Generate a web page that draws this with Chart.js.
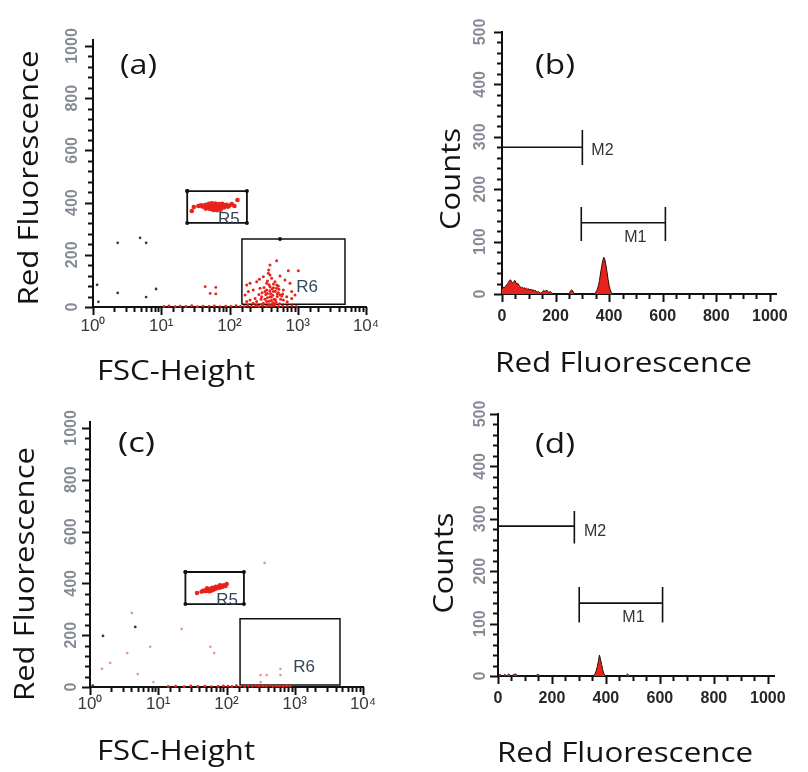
<!DOCTYPE html>
<html>
<head>
<meta charset="utf-8">
<title>Red fluorescence panels</title>
<script src="https://cdn.jsdelivr.net/npm/chart.js@4.4.1/dist/chart.umd.min.js"></script>
<style>
  html, body { margin: 0; padding: 0; background: #ffffff; overflow: hidden; }
  #figure { position: relative; width: 808px; height: 772px; }
  #figure canvas { position: absolute; }
</style>
</head>
<body>
<div id="figure">
  <canvas id="chart-a" width="404" height="388" style="left:0px;top:0px"></canvas>
  <canvas id="chart-b" width="404" height="388" style="left:404px;top:0px"></canvas>
  <canvas id="chart-c" width="404" height="384" style="left:0px;top:388px"></canvas>
  <canvas id="chart-d" width="404" height="384" style="left:404px;top:388px"></canvas>
</div>
<script>
// TICK LABELS
const fscTickValues = [1, 10, 100, 1000, 10000];
const fscTickLabels = ["10⁰", "10¹", "10²", "10³", "10⁴"];
const redTickLabels = [0, 200, 400, 600, 800, 1000];
const countTickLabels = [0, 100, 200, 300, 400, 500];
const channelTickLabels = [0, 200, 400, 600, 800, 1000];

// PANEL (a) - dot plot
const r5A_fsc = [30,35,38,40,42,44,45,46,48,49,50,51,52,53,54,55,56,57,58,59,60,61,62,63,64,65,66,67,68,70,72,74,76,78,80,83,86,90,95,100,108,118,28,131,60,70,48,52,56,60,64,68,72,50,55,62,70,78,85,45,58,66,74];
const r5A_red = [383,387,390,385,389,381,392,386,384,391,378,387,382,394,380,388,385,376,391,383,388,379,393,384,377,389,382,386,380,391,384,379,388,382,386,381,387,392,384,389,394,387,368,410,373,375,380,376,378,374,376,377,380,395,397,396,394,395,391,377,372,371,373];
const r6A_fsc = [392,491,375,728,1019,392,550,313,274,200,179,250,351,464,650,770,392,491,280,223,189,169,331,439,615,815,912,689,550,392,296,237,200,179,250,351,464,615,815,439,313,223,491,415,371,400,430,470,360,420,500,380,450,520,340,410,480,390,440,360,300,270,560,600,520,330,460,380,540,300,250,420,700,350,410,470,530,290,320,360,440,500,580,380,430];
const r6A_red = [161,177,142,139,139,123,119,116,106,91,84,97,91,97,103,91,78,72,72,65,59,46,59,59,65,59,46,39,46,39,39,33,27,21,21,21,27,27,33,14,14,14,84,110,129,52,45,60,35,70,40,85,30,55,48,25,18,62,88,100,55,48,30,50,80,30,10,8,12,10,6,6,20,65,38,28,68,30,75,52,74,50,42,22,16];
const baseA_fsc = [11,13,16,19,23,28,34,41,50,60,72,88,105,125,145,165,185,210,240,270,310,350,400,450,520,600,700,820,950];
const baseA_red = [2,4,1,3,2,5,1,3,2,4,1,3,2,5,3,2,6,3,4,2,5,3,4,6,2,4,3,5,2];
const strayA_fsc = [44,63,52,63];
const strayA_red = [78,75,52,50];
const darkA_fsc = [1.15,2.3,4.9,6,2.3,8.4,6,1.2];
const darkA_red = [85,246,265,246,54,69,38,20];
const gateR5A_fsc = [24,180,180,24,24];
const gateR5A_red = [444,444,322,322,444];
const gateR6A_fsc = [152,152,550,4920,4920,152];
const gateR6A_red = [11,261,261,261,11,11];

// PANEL (b) - histogram
const histB_channel = [0,4,8,12,16,20,24,28,32,36,40,44,48,52,56,60,64,68,72,76,80,84,88,92,96,100,104,108,112,116,120,124,128,132,136,140,144,148,152,156,160,164,168,172,176,180,184,188,192,196,200,248,252,256,260,264,268,272,344,348,352,356,360,364,368,372,376,380,384,388,392,396,400,404,408,412,416,930];
const histB_counts = [10,13,12,14,17,19,22,26,27,23,21,24,26,22,19,20,16,14,12,13,11,12,10,11,9,10,8,9,7,8,6,7,5,4,5,3,2,3,5,7,5,6,7,4,3,5,3,1,0,0,0,0,2,6,8,6,2,0,0,2,5,9,16,26,40,52,63,70,66,55,42,28,16,8,3,1,0,0];
const markerM2B_channel = [0,300,300,300];
const markerM2B_counts = [280,280,313,246];
const markerM1B_channel = [296,296,296,610,610,610];
const markerM1B_counts = [166,101,136,136,166,101];

// PANEL (c) - dot plot
const r5C_fsc = [43,45,47,49,51,53,55,57,59,61,63,65,67,69,72,75,78,81,85,88,92,97,101,56,60,64,68,52,37,62,70,80];
const r5C_red = [368,371,373,370,375,372,377,374,379,376,381,378,383,380,385,382,388,384,391,387,393,390,398,369,372,375,378,381,363,383,387,393];
const baseC_fsc = [14,18,24,30,38,48,60,75,90,105,120,140,160,185,210,240,270,300,340,380,430,480,540,600,680,760,850];
const baseC_red = [2,3,1,4,2,3,1,2,4,3,2,5,3,2,4,3,5,2,4,3,6,2,4,3,2,4,3];
const strayC_fsc = [4.1,3.5,1.97,1.5,5,7.6,8.5,22,58,66,363,316,316,389,617,617];
const strayC_red = [286,131,93,70,50,155,19,224,155,131,479,46,19,46,70,46];
const darkC_fsc = [1.55,4.6,1.1];
const darkC_red = [197,232,5];
const gateR5C_fsc = [25,180,180,25,25];
const gateR5C_red = [444,444,320,320,444];
const gateR6C_fsc = [158,158,4600,4600,158];
const gateR6C_red = [8,263,263,8,8];

// PANEL (d) - histogram
const histD_channel = [0,4,8,12,16,20,24,28,32,36,40,44,48,52,56,60,64,68,72,76,140,144,148,152,156,352,356,360,364,368,372,376,380,384,388,392,396,400,472,476,480,484,488,930];
const histD_counts = [0,2,3,1,0,1,3,2,0,2,4,2,0,1,2,3,4,3,1,0,0,2,3,2,0,0,2,5,10,18,28,40,32,22,12,5,2,0,0,2,4,2,0,0];
const markerM2D_channel = [0,0,0,283,283,283];
const markerM2D_counts = [315,253,286,286,315,253];
const markerM1D_channel = [301,301,301,610,610,610];
const markerM1D_counts = [170,102,139,139,170,102];

// COLOURS
const RED = "#e8231b";
const PINK = "#e99a9a";
const DARK = "#35384a";
const INK = "#111111";

Chart.defaults.font.family = "'Liberation Sans', Arial, sans-serif";

//! UTILITY FUNCTIONS

//* zip two arrays into {x, y} points
function toPoints(xs, ys) {
  return xs.map((x, i) => ({ x: x, y: ys[i] }));
}

//* plain dots
function dots(xs, ys, color, radius) {
  return {
    data: toPoints(xs, ys),
    backgroundColor: color,
    pointRadius: radius,
    pointBorderWidth: 0,
    pointHoverRadius: 0,
    clip: 4,
  };
}

//* gate / marker outline
function outline(xs, ys, width, radius) {
  return {
    data: toPoints(xs, ys),
    showLine: true,
    borderColor: INK,
    borderWidth: width,
    backgroundColor: INK,
    pointRadius: radius,
    pointBorderWidth: 0,
    tension: 0,
    fill: false,
    clip: 4,
  };
}

//* filled histogram
function histogram(xs, ys) {
  return {
    data: toPoints(xs, ys),
    showLine: true,
    fill: "origin",
    backgroundColor: RED,
    borderColor: "#2c0905",
    borderWidth: 1,
    pointRadius: 0,
    tension: 0,
  };
}

//* tick marks along an axis, taken from the scale's own ticks
function drawTickMarks(ctx, scale, majorValues) {
  ctx.save();
  ctx.strokeStyle = INK;
  ctx.lineWidth = 2;
  ctx.lineCap = "butt";
  ctx.beginPath();
  scale.ticks.forEach((tick, i) => {
    const p = Math.round(scale.getPixelForTick(i)) + 0.5;
    const len = majorValues.includes(tick.value) ? 8 : 5;
    if (scale.isHorizontal()) {
      ctx.moveTo(p, scale.top);
      ctx.lineTo(p, scale.top + len);
    } else {
      ctx.moveTo(scale.right - len, p);
      ctx.lineTo(scale.right, p);
    }
  });
  ctx.stroke();
  ctx.restore();
}

//* text and tick marks: region labels in data units, titles in page pixels
const panelTextPlugin = {
  id: "panelText",
  afterDraw(chart) {
    const ctx = chart.ctx;
    const xs = chart.scales.x;
    const ys = chart.scales.y;
    const opts = chart.options.plugins.panelText;

    drawTickMarks(ctx, xs, opts.xMajor);
    drawTickMarks(ctx, ys, opts.yMajor);

    opts.labels.forEach((lab) => {
      ctx.save();
      ctx.font = opts.labelFont;
      ctx.fillStyle = opts.labelColor;
      ctx.textAlign = "center";
      ctx.textBaseline = "middle";
      ctx.fillText(lab.text, xs.getPixelForValue(lab.x), ys.getPixelForValue(lab.y));
      ctx.restore();
    });

    opts.titles.forEach((t) => {
      ctx.save();
      ctx.font = "28px 'Open Sans'";
      ctx.fillStyle = "#141414";
      ctx.textBaseline = "alphabetic";
      ctx.textAlign = t.vertical ? "center" : "left";
      ctx.translate(t.x - opts.offsetX, t.y - opts.offsetY);
      if (t.vertical) ctx.rotate(-Math.PI / 2);
      const w = ctx.measureText(t.text).width;
      ctx.scale(t.width / w, 1);
      ctx.fillText(t.text, 0, 0);
      ctx.restore();
    });
  },
};

//* shared axis look (tick marks come from drawTickMarks)
function axisBase() {
  return {
    border: { display: true, color: INK, width: 2 },
    grid: { display: false, drawTicks: true, tickLength: 7 },
  };
}

//* Create dot plot (FSC-Height vs Red Fluorescence)
function createDotPlot(canvasId, layout, datasets, text) {
  text.xMajor = fscTickValues;
  text.yMajor = redTickLabels;
  return new Chart(document.getElementById(canvasId), {
    type: "scatter",
    data: { datasets: datasets },
    options: {
      responsive: false,
      animation: false,
      events: [],
      layout: { padding: layout.padding },
      plugins: { legend: { display: false }, tooltip: { enabled: false }, panelText: text },
      scales: {
        x: {
          ...axisBase(),
          type: "logarithmic",
          min: 1,
          max: 10000,
          ticks: {
            autoSkip: false,
            maxRotation: 0,
            padding: layout.xTickPad,
            color: "#383838",
            font: { size: 17 },
            callback: (v) => {
              const i = fscTickValues.indexOf(v);
              return i >= 0 ? fscTickLabels[i] : "";
            },
          },
          afterFit: (scale) => { scale.height = layout.xHeight; },
        },
        y: {
          ...axisBase(),
          min: 0,
          max: 1023,
          ticks: {
            stepSize: 40,
            includeBounds: false,
            autoSkip: false,
            minRotation: 90,
            maxRotation: 90,
            crossAlign: "center",
            padding: layout.yTickPad,
            color: "#858b96",
            font: { size: 16, weight: "bold" },
            callback: (v) => (redTickLabels.includes(v) ? v : ""),
          },
          afterFit: (scale) => { scale.width = layout.yWidth; },
        },
      },
    },
    plugins: [panelTextPlugin],
  });
}

//* Create histogram (Red Fluorescence vs Counts)
function createHistogram(canvasId, layout, datasets, text) {
  text.xMajor = channelTickLabels;
  text.yMajor = countTickLabels;
  return new Chart(document.getElementById(canvasId), {
    type: "scatter",
    data: { datasets: datasets },
    options: {
      responsive: false,
      animation: false,
      events: [],
      layout: { padding: layout.padding },
      plugins: { legend: { display: false }, tooltip: { enabled: false }, panelText: text },
      scales: {
        x: {
          ...axisBase(),
          type: "linear",
          min: 0,
          max: 1023,
          ticks: {
            stepSize: 50,
            includeBounds: false,
            autoSkip: false,
            maxRotation: 0,
            padding: layout.xTickPad,
            color: "#262626",
            font: { size: 16, weight: "bold" },
            callback: (v) => (channelTickLabels.includes(v) ? v : ""),
          },
          afterFit: (scale) => { scale.height = layout.xHeight; },
        },
        y: {
          ...axisBase(),
          min: 0,
          max: 500,
          ticks: {
            stepSize: 20,
            autoSkip: false,
            minRotation: 90,
            maxRotation: 90,
            crossAlign: "center",
            padding: layout.yTickPad,
            color: "#858b96",
            font: { size: 16, weight: "bold" },
            callback: (v) => (countTickLabels.includes(v) ? v : ""),
          },
          afterFit: (scale) => { scale.width = layout.yWidth; },
        },
      },
    },
    plugins: [panelTextPlugin],
  });
}

function drawFigure() {
  // (a)
  createDotPlot(
    "chart-a",
    { padding: { left: 0, top: 40, right: 38, bottom: 0 }, yWidth: 93, xHeight: 81, yTickPad: -4, xTickPad: 2 },
    [
      dots(baseA_fsc, baseA_red, RED, 1.4),
      dots(darkA_fsc, darkA_red, DARK, 1.4),
      dots(strayA_fsc, strayA_red, RED, 1.4),
      dots(r6A_fsc, r6A_red, RED, 1.5),
      dots(r5A_fsc, r5A_red, RED, 2.3),
      outline(gateR5A_fsc, gateR5A_red, 1.8, 2),
      outline(gateR6A_fsc, gateR6A_red, 1.5, [0, 0, 2, 0, 0, 0]),
    ],
    {
      offsetX: 0, offsetY: 0,
      labelFont: "17px 'Liberation Sans'", labelColor: "#34465a",
      labels: [{ text: "R5", x: 98, y: 335 }, { text: "R6", x: 1370, y: 77 }],
      titles: [
        { text: "(a)", x: 120, y: 74, width: 37 },
        { text: "Red Fluorescence", x: 38, y: 178, width: 255, vertical: true },
        { text: "FSC-Height", x: 97, y: 380, width: 158 },
      ],
    }
  );

  // (b)
  createHistogram(
    "chart-b",
    { padding: { left: 0, top: 32, right: 32, bottom: 0 }, yWidth: 98, xHeight: 94, yTickPad: 1, xTickPad: 6 },
    [
      histogram(histB_channel, histB_counts),
      outline(markerM2B_channel, markerM2B_counts, 1.6, 0),
      outline(markerM1B_channel, markerM1B_counts, 1.6, 0),
    ],
    {
      offsetX: 404, offsetY: 0,
      labelFont: "16px 'Liberation Sans'", labelColor: "#333333",
      labels: [{ text: "M2", x: 375, y: 273 }, { text: "M1", x: 498, y: 107 }],
      titles: [
        { text: "(b)", x: 535, y: 74, width: 40 },
        { text: "Counts", x: 460, y: 179, width: 102, vertical: true },
        { text: "Red Fluorescence", x: 495, y: 372, width: 257 },
      ],
    }
  );

  // (c)
  createDotPlot(
    "chart-c",
    { padding: { left: 0, top: 34, right: 41, bottom: 0 }, yWidth: 90, xHeight: 85, yTickPad: -6, xTickPad: 0 },
    [
      dots(baseC_fsc, baseC_red, RED, 1.4),
      dots(strayC_fsc, strayC_red, PINK, 1.4),
      dots(darkC_fsc, darkC_red, DARK, 1.4),
      dots(r5C_fsc, r5C_red, RED, 2.2),
      outline(gateR5C_fsc, gateR5C_red, 1.8, 2),
      outline(gateR6C_fsc, gateR6C_red, 1.5, 0),
    ],
    {
      offsetX: 0, offsetY: 388,
      labelFont: "17px 'Liberation Sans'", labelColor: "#34465a",
      labels: [{ text: "R5", x: 102, y: 336 }, { text: "R6", x: 1370, y: 77 }],
      titles: [
        { text: "(c)", x: 118, y: 452, width: 37 },
        { text: "Red Fluorescence", x: 34, y: 574, width: 254, vertical: true },
        { text: "FSC-Height", x: 97, y: 760, width: 158 },
      ],
    }
  );

  // (d)
  createHistogram(
    "chart-d",
    { padding: { left: 0, top: 26, right: 34, bottom: 0 }, yWidth: 94, xHeight: 96, yTickPad: -3, xTickPad: 6 },
    [
      histogram(histD_channel, histD_counts),
      outline(markerM2D_channel, markerM2D_counts, 1.6, 0),
      outline(markerM1D_channel, markerM1D_counts, 1.6, 0),
    ],
    {
      offsetX: 404, offsetY: 388,
      labelFont: "16px 'Liberation Sans'", labelColor: "#333333",
      labels: [{ text: "M2", x: 360, y: 276 }, { text: "M1", x: 502, y: 112 }],
      titles: [
        { text: "(d)", x: 535, y: 453, width: 40 },
        { text: "Counts", x: 453, y: 563, width: 101, vertical: true },
        { text: "Red Fluorescence", x: 497, y: 762, width: 256 },
      ],
    }
  );
}

// wait for the installed fonts, then draw
Promise.all([
  document.fonts.load("28px 'Open Sans'"),
  document.fonts.load("16px 'Liberation Sans'"),
  document.fonts.load("bold 16px 'Liberation Sans'"),
]).then(drawFigure, drawFigure);
</script>
</body>
</html>
